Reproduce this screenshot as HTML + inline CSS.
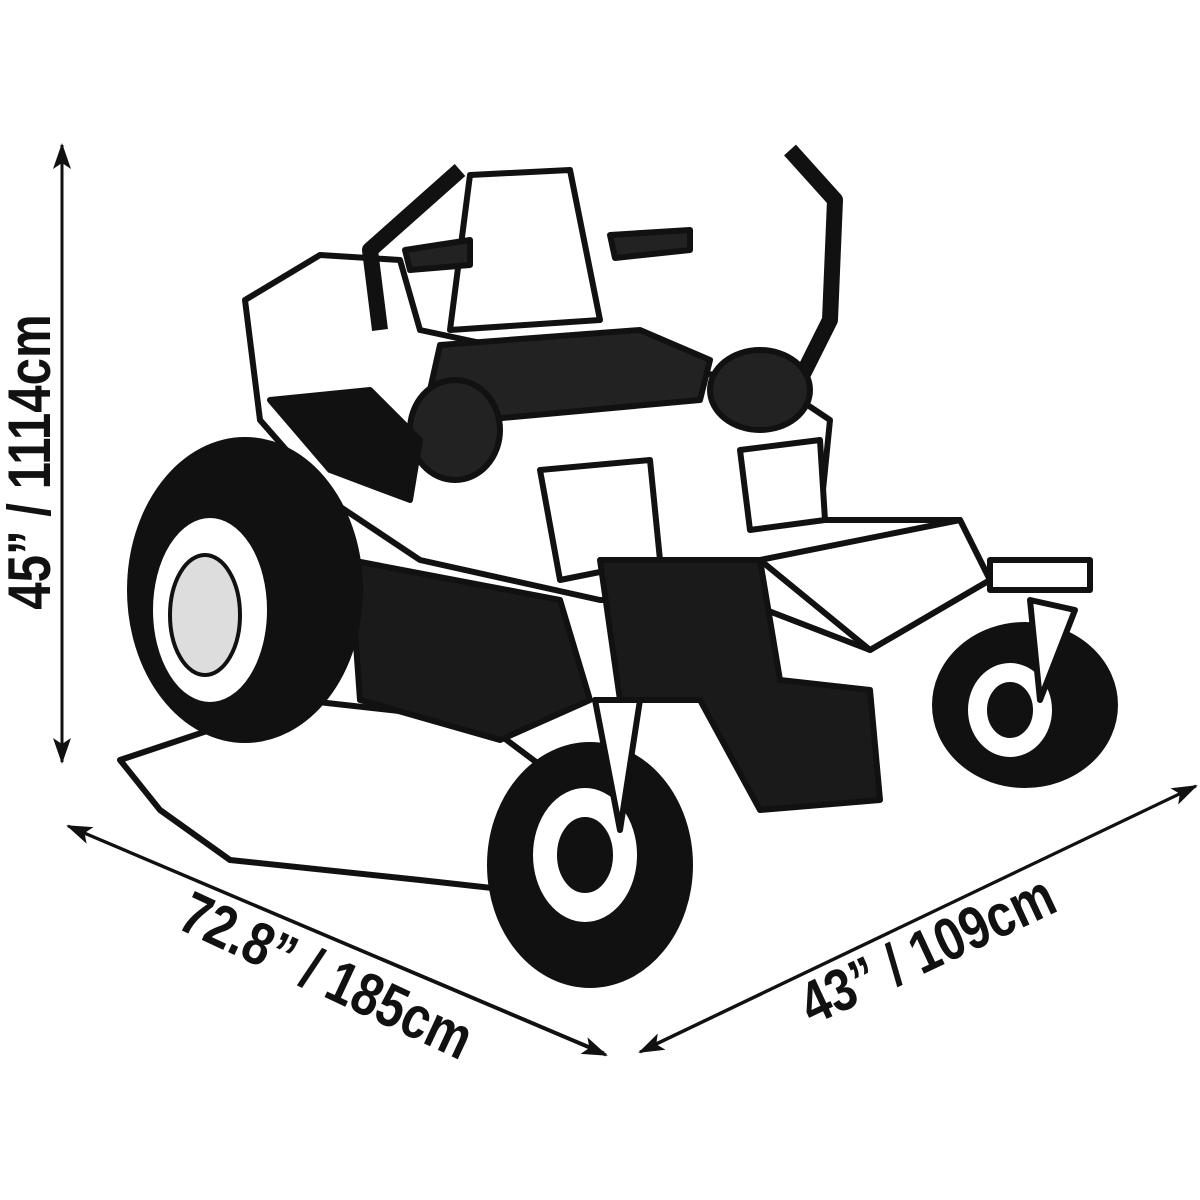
<!DOCTYPE html>
<html><head><meta charset="utf-8"><style>
html,body{margin:0;padding:0;background:#fff;width:1200px;height:1200px;overflow:hidden}
svg{display:block}
text{font-family:"Liberation Sans",sans-serif;font-weight:bold;fill:#111}
</style></head><body>
<svg width="1200" height="1200" viewBox="0 0 1200 1200" xmlns="http://www.w3.org/2000/svg">
<defs>
<marker id="ah" markerWidth="26" markerHeight="18" refX="24" refY="9" orient="auto" markerUnits="userSpaceOnUse">
<path d="M0,0 L26,9 L0,18 L6,9 Z" fill="#111"/></marker>
</defs>
<g stroke="#111" stroke-width="3" fill="none">
<line x1="62" y1="760" x2="62" y2="145" marker-end="url(#ah)"/>
<line x1="62" y1="145" x2="62" y2="762" marker-end="url(#ah)"/>
<line x1="604" y1="1053" x2="68" y2="826" marker-end="url(#ah)"/>
<line x1="72" y1="828" x2="606" y2="1055" marker-end="url(#ah)"/>
<line x1="643" y1="1050" x2="1196" y2="786" marker-end="url(#ah)"/>
<line x1="1194" y1="787" x2="640" y2="1052" marker-end="url(#ah)"/>
</g>
<text x="0" y="0" font-size="60" transform="translate(50,462) rotate(-90) scale(0.82,1)" text-anchor="middle">45” / 1114cm</text>
<text x="0" y="0" font-size="60" transform="translate(318,994) rotate(25) scale(0.82,1)" text-anchor="middle">72.8” / 185cm</text>
<text x="0" y="0" font-size="60" transform="translate(936,968) rotate(-25) scale(0.82,1)" text-anchor="middle">43” / 109cm</text>

<!-- mower -->
<g stroke="#111" stroke-width="6" fill="#fff" stroke-linejoin="round">
<path d="M120,760 L300,700 L480,720 L600,810 L640,880 L600,900 L420,880 L230,860 L160,810 Z" fill="#fff"/>
<path d="M245,300 L320,255 L400,260 L420,330 L560,360 L770,380 L830,420 L820,520 L960,520 L990,580 L870,650 L740,600 L600,600 L420,560 L330,500 L260,420 Z"/>
<path d="M470,175 L570,170 L600,320 L450,330 Z"/>
<path d="M440,345 L640,330 L710,360 L700,400 L480,420 L430,390 Z" fill="#222"/>
<path d="M380,330 L370,250 L460,170" fill="none" stroke-width="16"/>
<path d="M790,150 L835,200 L830,320 L800,380" fill="none" stroke-width="16"/>
<path d="M405,250 L470,240 L470,265 L410,270 Z" fill="#222"/>
<path d="M610,235 L690,230 L690,250 L615,258 Z" fill="#222"/>
<ellipse cx="455" cy="430" rx="45" ry="50" fill="#222"/>
<ellipse cx="760" cy="390" rx="50" ry="40" fill="#222"/>
<path d="M270,400 L370,390 L420,440 L410,500 L330,470 Z" fill="#111"/>
<path d="M540,470 L650,460 L660,560 L560,580 Z"/>
<path d="M740,450 L820,440 L825,520 L750,530 Z"/>
<path d="M600,560 L760,560 L780,680 L870,690 L880,800 L760,810 L700,700 L620,700 Z" fill="#1a1a1a"/>
<path d="M350,560 L560,600 L590,700 L500,740 L360,700 Z" fill="#1a1a1a"/>
<path d="M760,560 L960,520 L990,580 L870,650 Z" fill="#fff"/>
<rect x="990" y="560" width="100" height="30" fill="#fff"/>
<ellipse cx="245" cy="590" rx="115" ry="150" fill="#111"/>
<ellipse cx="210" cy="610" rx="60" ry="95" fill="#fff"/>
<ellipse cx="205" cy="615" rx="35" ry="60" fill="#ddd" stroke-width="4"/>
<ellipse cx="590" cy="865" rx="100" ry="120" fill="#111"/>
<ellipse cx="585" cy="855" rx="55" ry="70" fill="#fff"/>
<ellipse cx="585" cy="855" rx="25" ry="35" fill="#111"/>
<ellipse cx="1025" cy="705" rx="90" ry="80" fill="#111"/>
<ellipse cx="1010" cy="710" rx="45" ry="50" fill="#fff"/>
<ellipse cx="1010" cy="710" rx="20" ry="25" fill="#111"/>
<path d="M595,700 L640,700 L620,830 Z" fill="#fff"/>
<path d="M1030,600 L1075,610 L1040,700 Z" fill="#fff"/>
</g>
</svg>
</body></html>
